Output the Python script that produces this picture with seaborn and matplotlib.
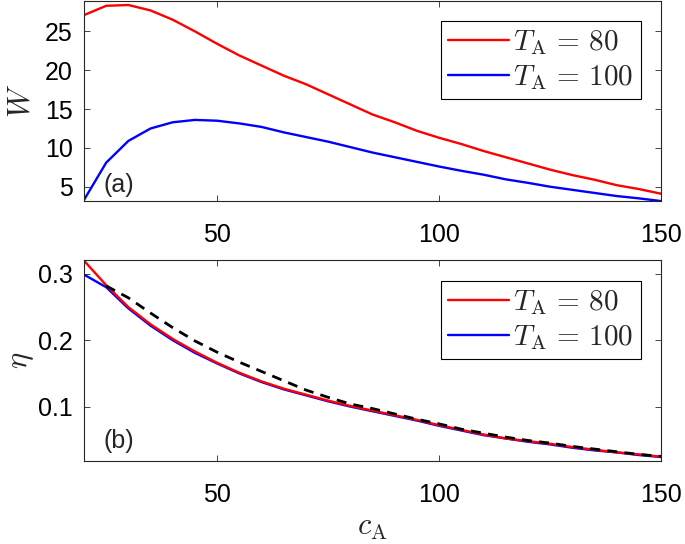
import matplotlib
matplotlib.use('Agg')
import matplotlib.pyplot as plt
import pandas as pd
import seaborn as sns

# Data
c_A = [20, 25, 30, 35, 40, 45, 50, 55, 60, 65, 70, 75, 80, 85, 90, 95, 100,
       105, 110, 115, 120, 125, 130, 135, 140, 145, 150]

W_80 = [27.1, 28.3, 28.4, 27.7, 26.5, 25.0, 23.4, 21.9, 20.6, 19.3, 18.2, 16.9,
        15.6, 14.3, 13.3, 12.2, 11.3, 10.5, 9.6, 8.8, 8.0, 7.2, 6.5, 5.9, 5.2,
        4.7, 4.1]
W_100 = [3.3, 8.1, 10.9, 12.5, 13.3, 13.6, 13.5, 13.15, 12.7, 12.0, 11.4, 10.8,
         10.1, 9.4, 8.8, 8.2, 7.6, 7.05, 6.55, 5.95, 5.5, 5.0, 4.6, 4.2, 3.8,
         3.5, 3.15]

eta_80 = [0.320, 0.283, 0.250, 0.224, 0.202, 0.183, 0.166, 0.151, 0.138, 0.127,
          0.118, 0.109, 0.101, 0.094, 0.087, 0.080, 0.072, 0.065, 0.058, 0.052,
          0.048, 0.044, 0.039, 0.035, 0.031, 0.028, 0.0245]
eta_100 = [0.299, 0.280, 0.248, 0.222, 0.200, 0.181, 0.165, 0.150, 0.137, 0.126,
           0.117, 0.108, 0.100, 0.093, 0.086, 0.079, 0.071, 0.064, 0.057, 0.052,
           0.047, 0.043, 0.038, 0.034, 0.031, 0.027, 0.024]

c_A_bound = c_A[1:]
eta_bound = [0.282, 0.264, 0.241, 0.219, 0.199, 0.182, 0.167, 0.153, 0.139,
             0.125, 0.114, 0.104, 0.097, 0.089, 0.081, 0.074, 0.066, 0.060,
             0.054, 0.049, 0.045, 0.040, 0.036, 0.032, 0.028, 0.025]

labels = [r'$T_{\rm A}\,=\,80$', r'$T_{\rm A}\,=\,100$']

sns.set_style('ticks')
plt.rcParams['font.family'] = ['Liberation Sans', 'DejaVu Sans']
plt.rcParams['mathtext.fontset'] = 'cm'

fig = plt.figure(figsize=(6.85, 5.44), dpi=100)
ax1 = fig.add_axes([84 / 685, 1 - 201 / 544, 577 / 685, 200.5 / 544])
ax2 = fig.add_axes([84 / 685, 1 - 461 / 544, 577 / 685, 201 / 544])

df_top = pd.DataFrame({'c': c_A * 2, 'v': W_80 + W_100,
                       'T': [labels[0]] * len(c_A) + [labels[1]] * len(c_A)})
df_bot = pd.DataFrame({'c': c_A * 2, 'v': eta_80 + eta_100,
                       'T': [labels[0]] * len(c_A) + [labels[1]] * len(c_A)})
pal = {labels[0]: '#ff0000', labels[1]: '#0000ff'}

sns.lineplot(data=df_top, x='c', y='v', hue='T', palette=pal, ax=ax1,
             linewidth=1.7, legend=False)
sns.lineplot(data=df_bot, x='c', y='v', hue='T', palette=pal, hue_order=labels[::-1],
             ax=ax2, linewidth=1.7, legend=False)
sns.lineplot(x=c_A_bound, y=eta_bound, ax=ax2, color='black', linewidth=2.0,
             dashes=False, linestyle=(0, (3.6, 2.6)))

for ax, lims, ticks in [(ax1, (3.16, 28.98), [5, 10, 15, 20, 25]),
                        (ax2, (0.018, 0.321), [0.1, 0.2, 0.3])]:
    ax.set_xlim(20, 150)
    ax.set_ylim(*lims)
    ax.set_xticks([50, 100, 150])
    ax.set_yticks(ticks)
    ax.tick_params(direction='in', length=4, width=0.6, top=True, right=True,
                   labelsize=18, colors='0.15', labelcolor='black')
    ax.tick_params(axis='x', pad=16)
    ax.tick_params(axis='y', pad=8)
    for s in ax.spines.values():
        s.set_linewidth(0.8)
        s.set_color('0.15')
    h = [plt.Line2D([], [], color='#ff0000', lw=1.7),
         plt.Line2D([], [], color='#0000ff', lw=1.7)]
    leg = ax.legend(h, labels, loc='upper right', bbox_to_anchor=(0.9653, 0.897),
                    borderaxespad=0, fontsize=21, frameon=True, fancybox=False,
                    framealpha=1, edgecolor='black', handlelength=2.1,
                    handletextpad=0.15, labelspacing=0.2, borderpad=0.25)
    leg.get_frame().set_linewidth(0.8)

ax2.set_yticklabels(['0.1', '0.2', '0.3'])

ax1.set_xlabel('')
ax1.set_ylabel(r'$W$', fontsize=22)
ax1.yaxis.set_label_coords(-0.083, 0.5)
ax2.set_ylabel(r'$\eta$', fontsize=22)
ax2.yaxis.set_label_coords(-0.083, 0.5)
ax2.set_xlabel(r'$c_{\rm A}$', fontsize=22, va='center')
ax2.xaxis.set_label_coords(0.5, -0.328)

ax1.text(0.033, 0.08, '(a)', transform=ax1.transAxes, fontsize=18, va='center')
ax2.text(0.033, 0.10, '(b)', transform=ax2.transAxes, fontsize=18, va='center')

fig.savefig('out.png', dpi=100)
